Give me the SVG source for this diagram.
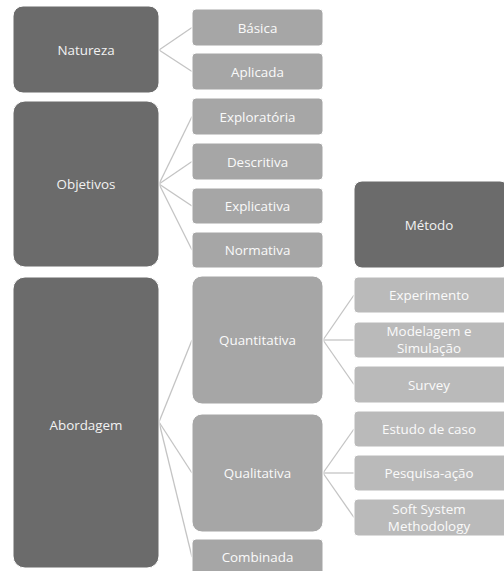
<svg xmlns="http://www.w3.org/2000/svg" width="504" height="571" viewBox="0 0 504 571">
  <style>
    .dark rect { fill: #6b6b6b; stroke: #ffffff; stroke-width: 1; }
    .mid rect { fill: #a6a6a6; stroke: #ffffff; stroke-width: 1; }
    .leaf rect { fill: #bababa; stroke: #ffffff; stroke-width: 1; }
    text { font-family: "Open Sans", "Liberation Sans", sans-serif; font-size: 13.4px; text-anchor: middle; dominant-baseline: central; fill: #f2f2f2; }
    .mid text, .leaf text { fill: #fafafa; }
    #connectors line { stroke: #c4c4c4; stroke-width: 1.3; }
  </style>
  <rect width="504" height="571" fill="#ffffff"/>

  <g id="connectors">
    <line x1="159" y1="50" x2="192" y2="27.5"/>
    <line x1="159" y1="50" x2="192" y2="71.5"/>
    <line x1="159" y1="184" x2="192" y2="116.5"/>
    <line x1="159" y1="184" x2="192" y2="161.5"/>
    <line x1="159" y1="184" x2="192" y2="206"/>
    <line x1="159" y1="184" x2="192" y2="250"/>
    <line x1="159" y1="422" x2="192" y2="340"/>
    <line x1="159" y1="422" x2="192" y2="473"/>
    <line x1="159" y1="422" x2="192" y2="557"/>
    <line x1="323" y1="340" x2="354" y2="295"/>
    <line x1="323" y1="340" x2="354" y2="340"/>
    <line x1="323" y1="340" x2="354" y2="384.5"/>
    <line x1="323" y1="473" x2="354" y2="429"/>
    <line x1="323" y1="473" x2="354" y2="473"/>
    <line x1="323" y1="473" x2="354" y2="517.5"/>
  </g>

  <!-- top-level categories -->
  <g id="natureza" class="dark"><rect x="13" y="6" width="146" height="87" rx="10"/><text x="86" y="50">Natureza</text></g>
  <g id="objetivos" class="dark"><rect x="13" y="101" width="146" height="166" rx="12"/><text x="86" y="184">Objetivos</text></g>
  <g id="abordagem" class="dark"><rect x="13" y="277" width="146" height="291" rx="12"/><text x="86" y="425">Abordagem</text></g>
  <g id="metodo" class="dark"><rect x="354" y="181" width="154" height="87" rx="8"/><text x="429" y="225">Método</text></g>

  <!-- second level -->
  <g id="basica" class="mid"><rect x="192" y="9" width="131" height="37" rx="4"/><text x="257.5" y="27.5">Básica</text></g>
  <g id="aplicada" class="mid"><rect x="192" y="53" width="131" height="37" rx="4"/><text x="257.5" y="71.5">Aplicada</text></g>
  <g id="exploratoria" class="mid"><rect x="192" y="98" width="131" height="37" rx="4"/><text x="257.5" y="116.5">Exploratória</text></g>
  <g id="descritiva" class="mid"><rect x="192" y="143" width="131" height="37" rx="4"/><text x="257.5" y="161.5">Descritiva</text></g>
  <g id="explicativa" class="mid"><rect x="192" y="188" width="131" height="36" rx="4"/><text x="257.5" y="206">Explicativa</text></g>
  <g id="normativa" class="mid"><rect x="192" y="232" width="131" height="36" rx="4"/><text x="257.5" y="250">Normativa</text></g>
  <g id="quantitativa" class="mid"><rect x="192" y="276" width="131" height="128" rx="10"/><text x="257.5" y="340">Quantitativa</text></g>
  <g id="qualitativa" class="mid"><rect x="192" y="414" width="131" height="118" rx="10"/><text x="257.5" y="473">Qualitativa</text></g>
  <g id="combinada" class="mid"><rect x="192" y="539" width="131" height="38" rx="4"/><text x="257.5" y="557">Combinada</text></g>

  <!-- methods -->
  <g id="experimento" class="leaf"><rect x="354" y="277" width="154" height="36" rx="4"/><text x="429" y="295">Experimento</text></g>
  <g id="modelagem" class="leaf"><rect x="354" y="322" width="154" height="36" rx="4"/><text x="429" y="331">Modelagem e</text><text x="429" y="348">Simulação</text></g>
  <g id="survey" class="leaf"><rect x="354" y="366" width="154" height="37" rx="4"/><text x="429" y="384.5">Survey</text></g>
  <g id="estudo" class="leaf"><rect x="354" y="411" width="154" height="36" rx="4"/><text x="429" y="429">Estudo de caso</text></g>
  <g id="pesquisa" class="leaf"><rect x="354" y="455" width="154" height="36" rx="4"/><text x="429" y="473">Pesquisa-ação</text></g>
  <g id="ssm" class="leaf"><rect x="354" y="499" width="154" height="37" rx="4"/><text x="429" y="508.5">Soft System</text><text x="429" y="525.5">Methodology</text></g>
</svg>
